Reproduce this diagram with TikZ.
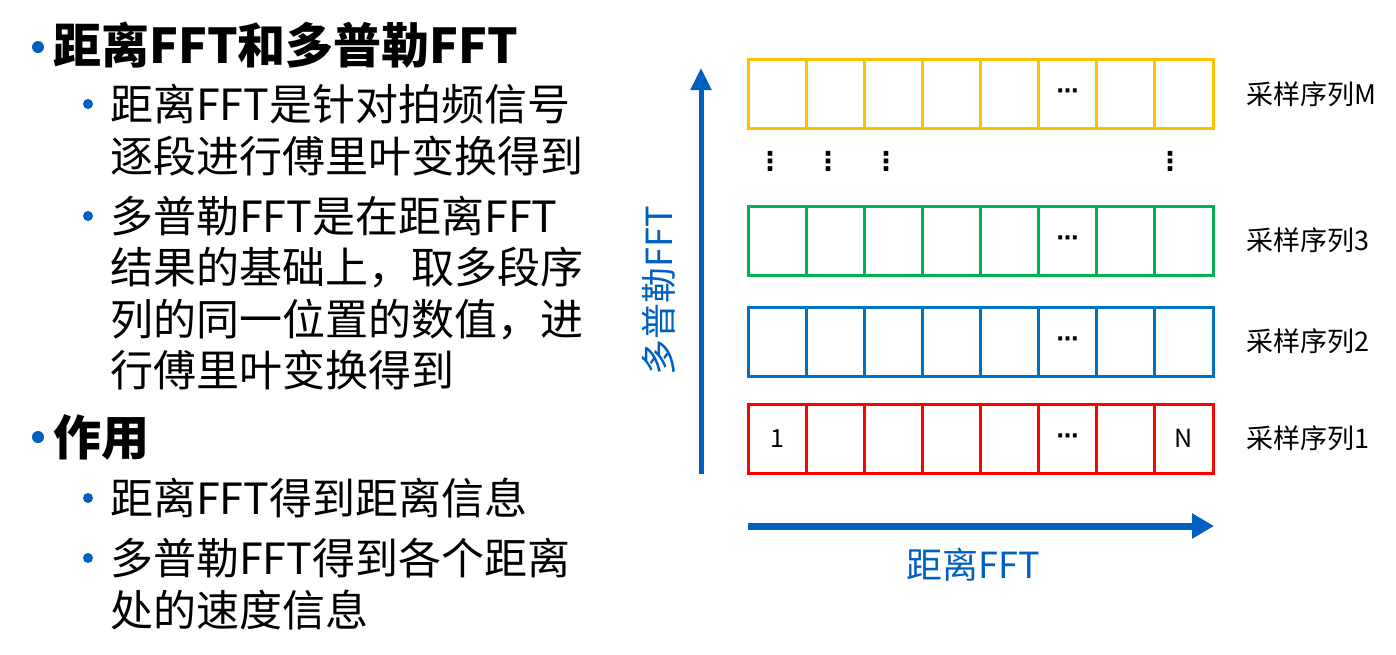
\documentclass[tikz,border=0pt]{standalone}
\usepackage{fontspec}
\setmainfont{Noto Sans CJK SC}
\newfontfamily\symfont{DejaVu Sans}
\usetikzlibrary{arrows.meta,positioning}

\definecolor{pptblue}{RGB}{0,96,192}
\definecolor{rowred}{RGB}{255,0,0}
\definecolor{rowblue}{RGB}{0,112,192}
\definecolor{rowgreen}{RGB}{0,176,80}
\definecolor{rowyellow}{RGB}{255,192,0}

\tikzset{
  cell/.style={draw, line width=3pt, minimum width=58.125pt, minimum height=69pt,
    inner sep=0pt, outer sep=0pt},
  celltext/.style={inner sep=0pt, font=\fontsize{25}{25}\selectfont},
  celldots/.style={inner sep=0pt, font=\symfont\bfseries\fontsize{22}{22}\selectfont},
  vdots/.style={inner sep=0pt, font=\symfont\bfseries\fontsize{26}{26}\selectfont},
  rowlabel/.style={inner sep=0pt, anchor=west, font=\fontsize{27}{27}\selectfont},
  head/.style={anchor=west, inner sep=0pt, font=\fontsize{48}{48}\selectfont\bfseries},
  body/.style={anchor=west, inner sep=0pt, font=\fontsize{43}{43}\selectfont},
  hbullet/.style={circle, fill=pptblue, inner sep=0pt, minimum size=12pt},
  sbullet/.style={circle, fill=pptblue, inner sep=0pt, minimum size=10pt},
  axislabel/.style={inner sep=0pt, text=pptblue, font=\fontsize{36}{36}\selectfont},
  axis/.style={draw=pptblue}
}

\begin{document}
\begin{tikzpicture}[x=1pt, y=-1pt]
  \useasboundingbox (0,0) rectangle (1396,654);

  % left column: bullet list
  \node[hbullet] (b1) at (38,47) {};
  \node[head] (t1) at (53,45) {距离FFT和多普勒FFT};
  \node[sbullet] (b2) at (88,104) {};
  \node[body] (s1a) at (110,104) {距离FFT是针对拍频信号};
  \node[body] (s1b) at (110,156) {逐段进行傅里叶变换得到};
  \node[sbullet] (b3) at (88,216) {};
  \node[body] (s2a) at (110,216) {多普勒FFT是在距离FFT};
  \node[body] (s2b) at (110,268) {结果的基础上，取多段序};
  \node[body] (s2c) at (110,320) {列的同一位置的数值，进};
  \node[body] (s2d) at (110,370) {行傅里叶变换得到};
  \node[hbullet] (b4) at (38,437) {};
  \node[head] (t2) at (53,437) {作用};
  \node[sbullet] (b5) at (88,498) {};
  \node[body] (s3a) at (110,498) {距离FFT得到距离信息};
  \node[sbullet] (b6) at (88,558) {};
  \node[body] (s4a) at (110,558) {多普勒FFT得到各个距离};
  \node[body] (s4b) at (110,610) {处的速度信息};

  % sample rows
  \foreach \row/\clr/\y in {1/rowred/438.5, 2/rowblue/341.5, 3/rowgreen/240.5, M/rowyellow/94} {
    \foreach \i in {1,...,8} {
      \node[cell, draw=\clr] (c\row-\i) at ({777.06+(\i-1)*58.125}, \y) {};
    }
    \node[celldots] (dots\row) at (c\row-6) {⋯};
    \node[rowlabel, right=33pt of c\row-8] (lab\row) {采样序列\row};
  }
  \node[celltext] (first) at (c1-1) {1};
  \node[celltext] (last) at (c1-8) {N};

  % skipped rows
  \foreach \x/\n in {770/a, 828/b, 886/c, 1170/d} {
    \node[vdots] (vd\n) at (\x,161) {⋮};
  }

  % axes
  \coordinate (yfoot) at (701,474);
  \coordinate (yhead) at (701,68);
  \draw[axis, line width=5pt, -{Triangle[length=22pt, width=20pt]}] (yfoot) -- (yhead);
  \coordinate (xfoot) at (748,526);
  \coordinate (xhead) at (1214,526);
  \draw[axis, line width=7pt, -{Triangle[length=22pt, width=24pt]}] (xfoot) -- (xhead);
  \node[axislabel, rotate=90] (ylab) at (659,291) {多普勒FFT};
  \node[axislabel] (xlab) at (973,565) {距离FFT};
\end{tikzpicture}
\end{document}
